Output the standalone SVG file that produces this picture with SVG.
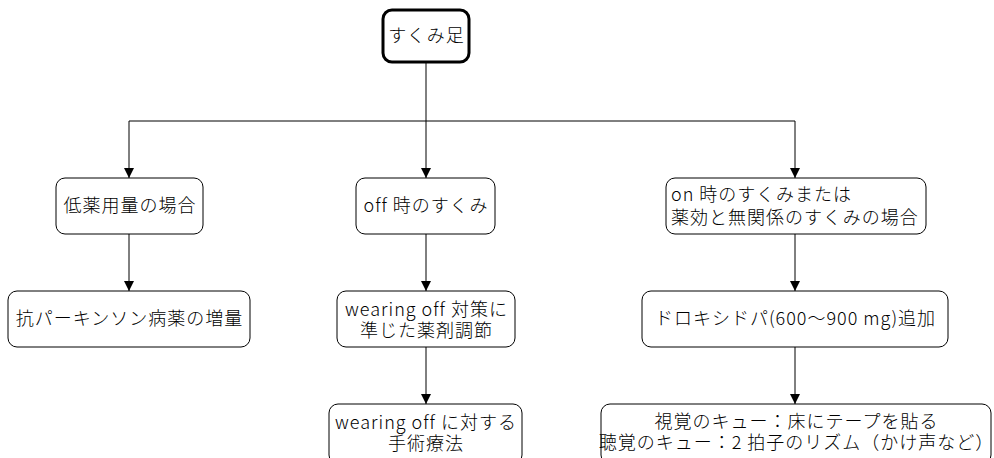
<svg xmlns="http://www.w3.org/2000/svg" width="994" height="458" viewBox="0 0 994 458">
<defs>
<marker id="ah" markerWidth="10" markerHeight="10" refX="10" refY="5" orient="auto" markerUnits="userSpaceOnUse">
<path d="M0,0 L10,5 L0,10 Z" fill="#000"/>
</marker>
<style>
.box{fill:#fff;stroke:#000;stroke-width:1}
.top{fill:#fff;stroke:#000;stroke-width:3}
.t{font-family:"Noto Sans CJK JP","Noto Sans",sans-serif;font-size:18px;font-weight:300;letter-spacing:1px;fill:#000}
.c{stroke:#000;stroke-width:1;fill:none}
.mid{text-anchor:middle}
</style>
</defs>
<rect width="994" height="458" fill="#fff"/>
<g id="connectors">
<path class="c" d="M426,63 V121"/>
<path class="c" d="M129,121 H795"/>
<path class="c" d="M129,121 V178" marker-end="url(#ah)"/>
<path class="c" d="M426,121 V178" marker-end="url(#ah)"/>
<path class="c" d="M795,121 V178" marker-end="url(#ah)"/>
<path class="c" d="M129,234 V291" marker-end="url(#ah)"/>
<path class="c" d="M426,234 V291" marker-end="url(#ah)"/>
<path class="c" d="M795,234 V291" marker-end="url(#ah)"/>
<path class="c" d="M426,347 V404" marker-end="url(#ah)"/>
<path class="c" d="M795,347 V404" marker-end="url(#ah)"/>
</g>
<g id="n0">
<rect class="top" x="383" y="10" width="86" height="52" rx="9"/>
<text class="t mid" x="426.5" y="42">すくみ足</text>
</g>
<g id="n1">
<rect class="box" x="56" y="178" width="147" height="56" rx="9"/>
<text class="t mid" x="130" y="212">低薬用量の場合</text>
</g>
<g id="n2">
<rect class="box" x="356" y="178" width="139" height="56" rx="9"/>
<text class="t mid" x="426" y="212">off 時のすくみ</text>
</g>
<g id="n3">
<rect class="box" x="666" y="178" width="260" height="56" rx="9"/>
<text class="t" x="671" y="200.5">on 時のすくみまたは</text>
<text class="t" x="671" y="223.5">薬効と無関係のすくみの場合</text>
</g>
<g id="n4">
<rect class="box" x="8" y="291" width="242" height="56" rx="9"/>
<text class="t mid" x="129.5" y="325">抗パーキンソン病薬の増量</text>
</g>
<g id="n5">
<rect class="box" x="337" y="291" width="178" height="56" rx="9"/>
<text class="t mid" x="426.5" y="315.5">wearing off 対策に</text>
<text class="t mid" x="426.5" y="336.5">準じた薬剤調節</text>
</g>
<g id="n6">
<rect class="box" x="642" y="291" width="306" height="56" rx="9"/>
<text class="t mid" x="795.5" y="325">ドロキシドパ(600～900 mg)追加</text>
</g>
<g id="n7">
<rect class="box" x="329" y="404" width="193" height="60" rx="9"/>
<text class="t mid" x="426" y="429">wearing off に対する</text>
<text class="t mid" x="426" y="449.5">手術療法</text>
</g>
<g id="n8">
<rect class="box" x="601" y="404" width="390" height="60" rx="9"/>
<text class="t mid" x="796.5" y="428">視覚のキュー：床にテープを貼る</text>
<text class="t mid" x="796.5" y="448.5">聴覚のキュー：2 拍子のリズム（かけ声など）</text>
</g>
</svg>
